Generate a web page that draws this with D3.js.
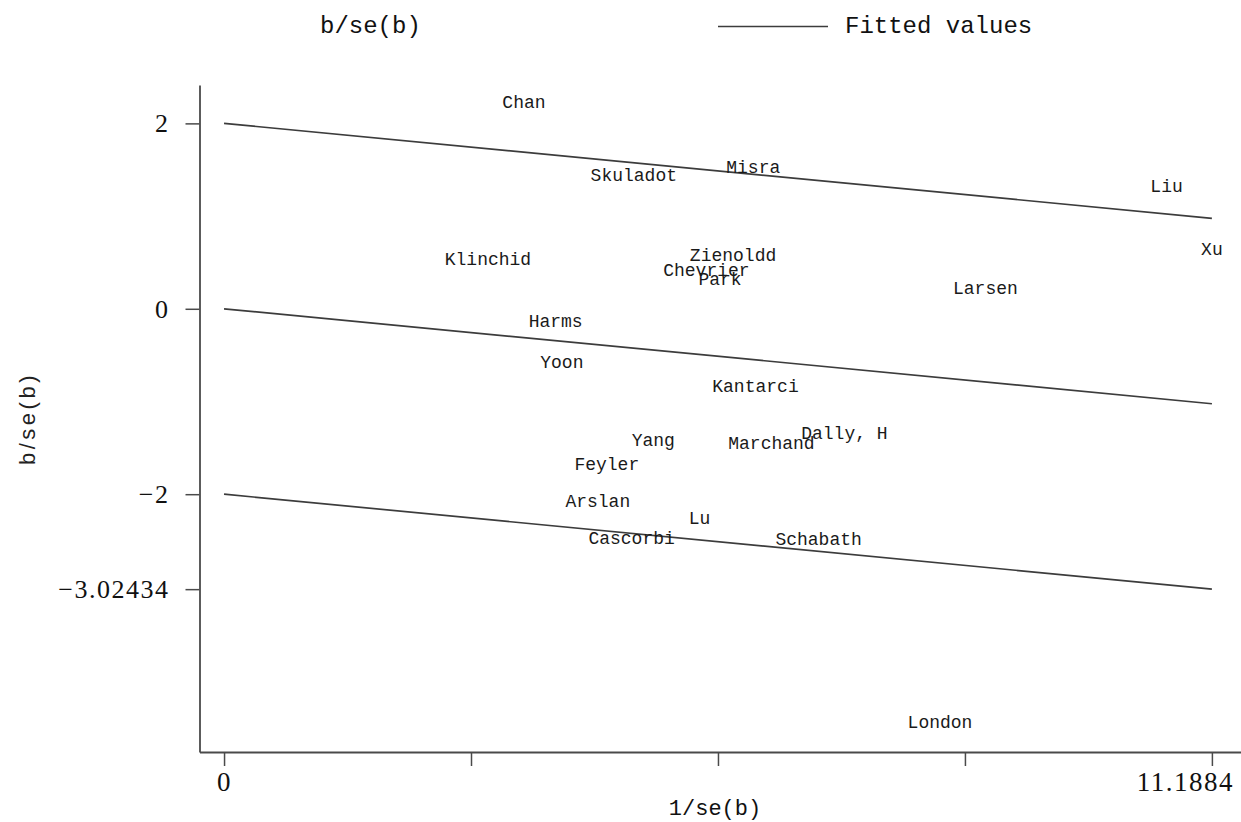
<!DOCTYPE html>
<html>
<head>
<meta charset="utf-8">
<script src="https://cdn.jsdelivr.net/npm/d3@7"></script>
<style>
  html, body { margin: 0; padding: 0; background: #fff; }
  svg { display: block; }
</style>
</head>
<body>
<script>
// Galbraith plot: standardised effect b/se(b) against precision 1/se(b)
const studyNames = ["Chan", "Skuladot", "Misra", "Liu", "Xu", "Klinchid", "Zienoldd",
  "Chevrier", "Park", "Larsen", "Harms", "Yoon", "Kantarci", "Yang", "Marchand",
  "Dally, H", "Feyler", "Arslan", "Lu", "Cascorbi", "Schabath", "London"];
const precision = [3.397, 4.641, 5.994, 10.675, 11.1884, 2.989, 5.765,
  5.463, 5.618, 8.623, 3.756, 3.826, 6.019, 4.862, 6.200,
  7.026, 4.335, 4.233, 5.385, 4.616, 6.734, 8.109];
const zScore = [2.233, 1.442, 1.529, 1.331, 0.647, 0.544, 0.583,
  0.417, 0.320, 0.231, -0.129, -0.575, -0.834, -1.416, -1.441,
  -1.341, -1.668, -2.071, -2.250, -2.470, -2.484, -4.455];

// fitted regression line through the origin and its +/-2 bands
const fitX = [0, 11.1884];
const fitStart = [2, 0, -2];
const fitEnd = [0.97566, -1.02434, -3.02434];

const xTicks = [0, 2.7971, 5.5942, 8.3913, 11.1884];
const xTickLabels = ["0", "", "", "", "11.1884"];
const yTicks = [2, 0, -2, -3.02434];
const yTickLabels = ["2", "0", "\u22122", "\u22123.02434"];

const W = 1241, H = 822;
const svg = d3.select("body").append("svg").attr("width", W).attr("height", H);

const xMin = -0.278, xMax = 11.518, yMin = -4.781, yMax = 2.414;
const x = d3.scaleLinear().domain([xMin, xMax]).range([199.5, 1241]);
const y = d3.scaleLinear().domain([yMin, yMax]).range([752, 85]);

const ink = "#4a4a4a";
const tickFont = "'Liberation Serif', 'DejaVu Serif', serif";
const monoFont = "'Liberation Mono', 'DejaVu Sans Mono', monospace";

// x axis
const xAxis = d3.axisBottom(x).tickValues(xTicks)
  .tickFormat((d, i) => xTickLabels[i]).tickSize(14).tickSizeOuter(0).tickPadding(6);
const gx = svg.append("g").attr("transform", `translate(0,${y(yMin)})`).call(xAxis);
gx.select(".domain").attr("stroke", ink).attr("stroke-width", 1.8);
gx.selectAll(".tick line").attr("stroke", ink).attr("stroke-width", 1.5);
gx.selectAll(".tick text")
  .attr("font-family", tickFont).attr("font-size", 27).attr("fill", "#111")
  .attr("letter-spacing", 1.5)
  .attr("dx", (d, i) => i === xTicks.length - 1 ? -27 : 0);

// y axis
const yAxis = d3.axisLeft(y).tickValues(yTicks)
  .tickFormat((d, i) => yTickLabels[i]).tickSize(14).tickSizeOuter(0).tickPadding(16);
const gy = svg.append("g").attr("transform", `translate(${x(xMin)},0)`).call(yAxis);
gy.select(".domain").attr("stroke", ink).attr("stroke-width", 1.8);
gy.selectAll(".tick line").attr("stroke", ink).attr("stroke-width", 1.5);
gy.selectAll(".tick text")
  .attr("font-family", tickFont).attr("font-size", 26).attr("fill", "#111")
  .attr("letter-spacing", 1.5);

// fitted lines
const lineGen = d3.line().x(d => x(d[0])).y(d => y(d[1]));
svg.append("g").selectAll("path")
  .data(fitStart.map((s, i) => [[fitX[0], s], [fitX[1], fitEnd[i]]]))
  .join("path")
  .attr("d", lineGen)
  .attr("fill", "none")
  .attr("stroke", "#3c3c3c")
  .attr("stroke-width", 1.7);

// study labels centred on their points
svg.append("g").selectAll("text")
  .data(studyNames)
  .join("text")
  .attr("x", (d, i) => x(precision[i]))
  .attr("y", (d, i) => y(zScore[i]))
  .attr("dy", "0.35em")
  .attr("text-anchor", "middle")
  .attr("font-family", monoFont)
  .attr("font-size", 18)
  .attr("fill", "#1a1a1a")
  .text(d => d);

// axis titles
svg.append("text")
  .attr("x", 715).attr("y", 815)
  .attr("text-anchor", "middle")
  .attr("font-family", monoFont).attr("font-size", 22).attr("fill", "#111")
  .text("1/se(b)");

svg.append("text")
  .attr("transform", `translate(35,${(y(yMin) + y(yMax)) / 2}) rotate(-90)`)
  .attr("text-anchor", "middle")
  .attr("font-family", "'Liberation Sans', Arial, sans-serif")
  .attr("font-size", 22).attr("letter-spacing", 3.5).attr("fill", "#222")
  .text("b/se(b)");

// legend
const legend = svg.append("g");
legend.append("text")
  .attr("x", 320).attr("y", 33)
  .attr("font-family", monoFont).attr("font-size", 24).attr("fill", "#111")
  .text("b/se(b)");
legend.append("line")
  .attr("x1", 718).attr("x2", 828).attr("y1", 26.5).attr("y2", 26.5)
  .attr("stroke", "#3c3c3c").attr("stroke-width", 1.7);
legend.append("text")
  .attr("x", 845).attr("y", 33)
  .attr("font-family", monoFont).attr("font-size", 24).attr("fill", "#111")
  .text("Fitted values");
</script>
</body>
</html>
